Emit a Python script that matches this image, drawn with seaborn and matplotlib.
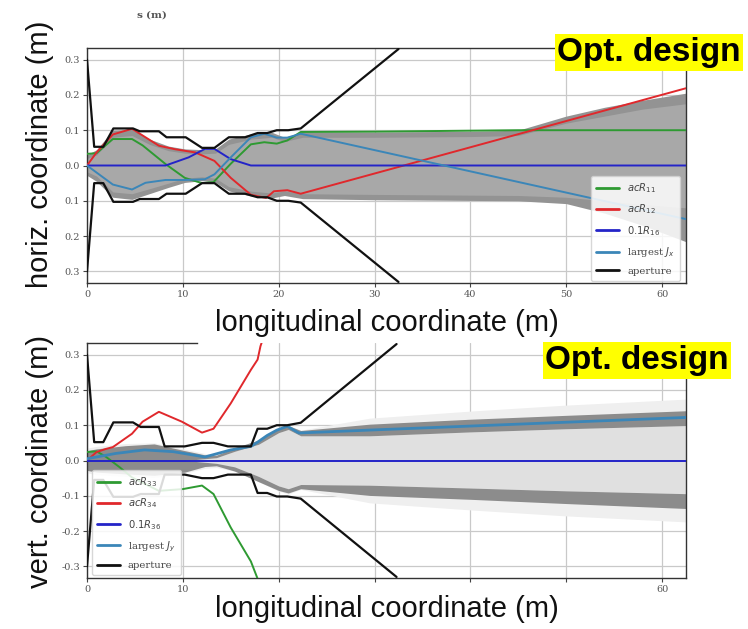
import matplotlib
matplotlib.use("Agg")
import matplotlib.pyplot as plt
import seaborn as sns
import pandas as pd

# ---------------- data: horizontal plane ----------------
ap_h_s = [0, 0.75, 1.7, 2.75, 4.8, 5.5, 7.5, 8.3, 10.3, 12.0, 13.3, 14.8, 16.5, 17.8, 18.8, 19.8, 21.0, 22.3, 32.5]
ap_h_up = [0.3, 0.053, 0.053, 0.105, 0.105, 0.097, 0.097, 0.08, 0.08, 0.05, 0.05, 0.08, 0.08, 0.092, 0.092, 0.1, 0.1, 0.105, 0.33]
ap_h_lo = [-0.3, -0.05, -0.05, -0.103, -0.103, -0.095, -0.095, -0.08, -0.08, -0.05, -0.05, -0.08, -0.08, -0.09, -0.09, -0.1, -0.1, -0.105, -0.33]

r11_s = [0, 1, 2.7, 4.7, 5.8, 8.2, 10.2, 12, 13.2, 15, 17.1, 18.5, 19.8, 20.9, 22.3, 30, 45, 62.5]
r11_y = [0.033, 0.035, 0.075, 0.075, 0.057, 0.004, -0.035, -0.05, -0.047, 0.005, 0.06, 0.066, 0.062, 0.071, 0.095, 0.096, 0.1, 0.1]

r12_s = [0, 1, 2.7, 4.7, 6.1, 7.5, 9.2, 11.3, 13.3, 15, 17.1, 18.7, 19.5, 20.9, 22.3, 62.5]
r12_y = [0, 0.037, 0.088, 0.104, 0.08, 0.056, 0.046, 0.037, 0.013, -0.035, -0.083, -0.092, -0.073, -0.07, -0.08, 0.219]

r16_s = [0, 8.2, 10.6, 12.3, 13.3, 15, 17.1, 62.5]
r16_y = [0, 0, 0.023, 0.047, 0.047, 0.018, 0, 0]

jx_s = [0, 2.7, 4.7, 6.1, 8.2, 10.2, 12.3, 13.3, 15, 17.1, 18.5, 19.8, 20.9, 22.3, 62.5]
jx_y = [0, -0.054, -0.068, -0.049, -0.041, -0.041, -0.039, -0.025, 0.023, 0.08, 0.09, 0.079, 0.079, 0.09, -0.152]

band_h_s = [0, 1, 2.7, 4.7, 6.5, 8.5, 10.2, 12, 13.4, 14.8, 17.2, 19.3, 20.6, 22.5, 30, 40, 45, 50, 54, 58, 62.5]
band_h_up = [0.03, 0.045, 0.1, 0.102, 0.075, 0.055, 0.047, 0.045, 0.047, 0.075, 0.09, 0.094, 0.08, 0.095, 0.095, 0.097, 0.1, 0.14, 0.165, 0.185, 0.205]
band_h_lo = [-0.028, -0.045, -0.09, -0.096, -0.08, -0.062, -0.048, -0.043, -0.048, -0.072, -0.087, -0.092, -0.085, -0.094, -0.097, -0.099, -0.1, -0.108, -0.135, -0.17, -0.216]
band_h_up_in = [0.02, 0.03, 0.08, 0.085, 0.06, 0.042, 0.035, 0.033, 0.035, 0.06, 0.075, 0.08, 0.068, 0.08, 0.08, 0.082, 0.085, 0.12, 0.14, 0.16, 0.175]
band_h_lo_in = [-0.018, -0.03, -0.075, -0.08, -0.066, -0.05, -0.036, -0.032, -0.036, -0.06, -0.073, -0.078, -0.072, -0.08, -0.082, -0.084, -0.085, -0.09, -0.1, -0.11, -0.12]

# ---------------- data: vertical plane ----------------
ap_v_s = [0, 0.75, 1.7, 2.75, 4.8, 5.6, 7.5, 8.1, 10.2, 12, 13.2, 14.7, 17.1, 17.8, 18.8, 19.8, 20.9, 22.3, 32.3]
ap_v_up = [0.3, 0.052, 0.052, 0.108, 0.108, 0.095, 0.095, 0.04, 0.04, 0.05, 0.05, 0.04, 0.04, 0.09, 0.09, 0.1, 0.1, 0.107, 0.33]
ap_v_lo = [-0.3, -0.055, -0.055, -0.103, -0.103, -0.095, -0.095, -0.04, -0.04, -0.05, -0.05, -0.04, -0.04, -0.092, -0.092, -0.102, -0.102, -0.108, -0.33]

r33_s = [0, 1, 2, 3.4, 4.7, 7.5, 10, 12, 13.2, 15, 17.1, 17.8]
r33_y = [0.024, 0.026, 0.01, -0.019, -0.048, -0.086, -0.081, -0.071, -0.095, -0.19, -0.286, -0.335]

r34_s = [0, 1, 2, 2.7, 4.7, 5.8, 7.5, 9.9, 12, 13.2, 15, 17.1, 17.8, 18.1, 18.3]
r34_y = [0, 0.024, 0.033, 0.038, 0.076, 0.11, 0.138, 0.11, 0.079, 0.09, 0.162, 0.257, 0.286, 0.324, 0.34]

r36_s = [0, 62.5]
r36_y = [0, 0]

jy_s = [0, 3, 6, 9, 12.3, 15, 17.1, 17.8, 18.8, 19.8, 20.9, 22.1, 30.2, 62.5]
jy_y = [0.005, 0.02, 0.03, 0.025, 0.01, 0.03, 0.04, 0.052, 0.071, 0.086, 0.097, 0.078, 0.087, 0.122]

band_v_s = [0, 1, 4, 7, 10.2, 12.3, 13.5, 15.4, 17.9, 20, 21, 22.3, 29.5, 40, 50, 62.5]
band_v_light_up = [0.035, 0.04, 0.048, 0.05, 0.032, 0.02, 0.018, 0.037, 0.058, 0.092, 0.1, 0.086, 0.12, 0.14, 0.157, 0.174]
band_v_light_lo = [-0.035, -0.04, -0.045, -0.048, -0.036, -0.022, -0.02, -0.03, -0.06, -0.087, -0.095, -0.082, -0.12, -0.14, -0.157, -0.174]
band_v_du_out = [0.028, 0.033, 0.042, 0.047, 0.028, 0.016, 0.015, 0.036, 0.058, 0.092, 0.099, 0.085, 0.103, 0.117, 0.128, 0.141]
band_v_du_in = [0, 0, 0, 0, 0, 0.005, 0.008, 0.026, 0.046, 0.079, 0.088, 0.07, 0.07, 0.081, 0.09, 0.099]
band_v_dl_out = [-0.028, -0.033, -0.038, -0.042, -0.033, -0.017, -0.015, -0.03, -0.06, -0.085, -0.092, -0.08, -0.099, -0.11, -0.122, -0.136]
band_v_dl_in = [0, 0, 0, 0, 0, -0.005, -0.008, -0.018, -0.045, -0.072, -0.08, -0.068, -0.07, -0.078, -0.086, -0.094]

x_ticks = [0, 10, 20, 30, 40, 50, 60]
x_labels_top = ["0", "10", "20", "30", "40", "50", "60"]
x_labels_bot = ["0", "10", "", "", "", "", "60"]
y_ticks = [0.3, 0.2, 0.1, 0.0, -0.1, -0.2, -0.3]
y_labels_top = ["0.3", "0.2", "0.1", "0.0", "0.1", "0.2", "0.3"]
y_labels_bot = ["0.3", "0.2", "0.1", "0.0", "-0.1", "-0.2", "-0.3"]

# ---------------- styling ----------------
sns.set_theme(style="whitegrid")
plt.rcParams["font.family"] = ["Liberation Sans", "DejaVu Sans"]
plt.rcParams["mathtext.fontset"] = "dejavusans"

C_GREEN = "#2e9a32"
C_RED = "#e0282c"
C_BLUE = "#2424c8"
C_JX = "#3b86b8"
C_BLACK = "#111111"

fig = plt.figure(figsize=(7.48, 6.29), dpi=100)
ax1 = fig.add_axes([87 / 748, 1 - 283 / 629, 599 / 748, 235 / 629])
ax2 = fig.add_axes([87 / 748, 1 - 578 / 629, 599 / 748, 235 / 629])


def line(ax, xs, ys, color, label, lw=1.4, z=3):
    df = pd.DataFrame({"s": xs, "v": ys})
    sns.lineplot(data=df, x="s", y="v", ax=ax, color=color, label=label,
                 lw=lw, estimator=None, sort=False, zorder=z)


# top panel
ax1.fill_between(band_h_s, band_h_lo, band_h_up, color="#939393", lw=0, zorder=1)
ax1.fill_between(band_h_s, band_h_lo_in, band_h_up_in, color="#a8a8a8", lw=0, zorder=1.1)
line(ax1, r11_s, r11_y, C_GREEN, r"$acR_{11}$")
line(ax1, r12_s, r12_y, C_RED, r"$acR_{12}$")
line(ax1, r16_s, r16_y, C_BLUE, r"$0.1R_{16}$")
line(ax1, jx_s, jx_y, C_JX, r"largest $J_x$")
line(ax1, ap_h_s, ap_h_up, C_BLACK, "aperture", lw=1.6)
line(ax1, ap_h_s, ap_h_lo, C_BLACK, None, lw=1.6)

# bottom panel
ax2.fill_between(band_v_s, band_v_light_lo, band_v_light_up, color="#efefef", lw=0, zorder=1)
ax2.fill_between(band_v_s, band_v_dl_in, band_v_du_in, color="#e0e0e0", lw=0, zorder=1.1)
ax2.fill_between(band_v_s, band_v_du_in, band_v_du_out, color="#8c8c8c", lw=0, zorder=1.2)
ax2.fill_between(band_v_s, band_v_dl_out, band_v_dl_in, color="#8c8c8c", lw=0, zorder=1.2)
line(ax2, r33_s, r33_y, C_GREEN, r"$acR_{33}$")
line(ax2, r34_s, r34_y, C_RED, r"$acR_{34}$")
line(ax2, r36_s, r36_y, C_BLUE, r"$0.1R_{36}$")
line(ax2, jy_s, jy_y, C_JX, r"largest $J_y$", lw=2.0)
line(ax2, ap_v_s, ap_v_up, C_BLACK, "aperture", lw=1.6)
line(ax2, ap_v_s, ap_v_lo, C_BLACK, None, lw=1.6)

for ax, xl, yl in [(ax1, x_labels_top, y_labels_top), (ax2, x_labels_bot, y_labels_bot)]:
    ax.set_xlim(0, 62.5)
    ax.set_ylim(-0.333, 0.333)
    ax.set_xticks(x_ticks)
    ax.set_xticklabels(xl)
    ax.set_yticks(y_ticks)
    ax.set_yticklabels(yl)
    ax.set_xlabel("")
    ax.set_ylabel("")
    ax.set_facecolor("white")
    ax.grid(True, color="#c9c9c9", lw=0.9)
    ax.tick_params(axis="both", which="both", labelsize=7, labelcolor="#555555",
                   colors="#444444", length=3, width=0.8, pad=2, bottom=True, left=True)
    for lab in ax.get_xticklabels() + ax.get_yticklabels():
        lab.set_family("DejaVu Serif")
        lab.set_color("#555555")
    for sp in ax.spines.values():
        sp.set_color("#333333")
        sp.set_linewidth(1.0)
        sp.set_visible(True)

ax2.spines["top"].set_bounds(0, 11.5)

leg_kw = dict(handlelength=2.3, labelspacing=0.75, borderpad=0.5,
              framealpha=0.85, edgecolor="#d0d0d0", fancybox=True,
              prop={"family": "DejaVu Serif", "size": 7.2})
lg1 = ax1.legend(loc="lower right", bbox_to_anchor=(0.99, 0.01), borderaxespad=0, **leg_kw)
lg2 = ax2.legend(loc="lower left", bbox_to_anchor=(0.008, 0.012), borderaxespad=0, **leg_kw)
for lg in (lg1, lg2):
    for t in lg.get_texts():
        t.set_color("#444444")
    for h in lg.get_lines():
        h.set_linewidth(2.0)
    lg.set_zorder(10)

# axis titles as figure text
lab_kw = dict(fontsize=21, color="#111111", family=["Liberation Sans", "DejaVu Sans"])
fig.text(40 / 748, 1 - 154 / 629, "horiz. coordinate (m)", rotation=90, ha="center", va="center", **lab_kw)
fig.text(40 / 748, 1 - 461 / 629, "vert. coordinate (m)", rotation=90, ha="center", va="center", **lab_kw)
fig.text(387 / 748, 1 - 323 / 629, "longitudinal coordinate (m)", ha="center", va="center", **lab_kw)
fig.text(387 / 748, 1 - 609 / 629, "longitudinal coordinate (m)", ha="center", va="center", **lab_kw)

fig.text(152 / 748, 1 - 15 / 629, r"$\mathbf{s}$ (m)", ha="center", va="center", fontsize=7.5,
         color="#555555", family="DejaVu Serif", fontweight="bold", math_fontfamily="dejavuserif")

box = dict(boxstyle="square,pad=0.08", fc="#ffff00", ec="none")
fig.text(649 / 748, 1 - 52.5 / 629, "Opt. design", ha="center", va="center", fontsize=24,
         fontweight="bold", color="black", family="Liberation Sans", bbox=box, zorder=20)
fig.text(637 / 748, 1 - 360.5 / 629, "Opt. design", ha="center", va="center", fontsize=24,
         fontweight="bold", color="black", family="Liberation Sans", bbox=box, zorder=20)

fig.savefig("out.png", dpi=100, facecolor="white")
